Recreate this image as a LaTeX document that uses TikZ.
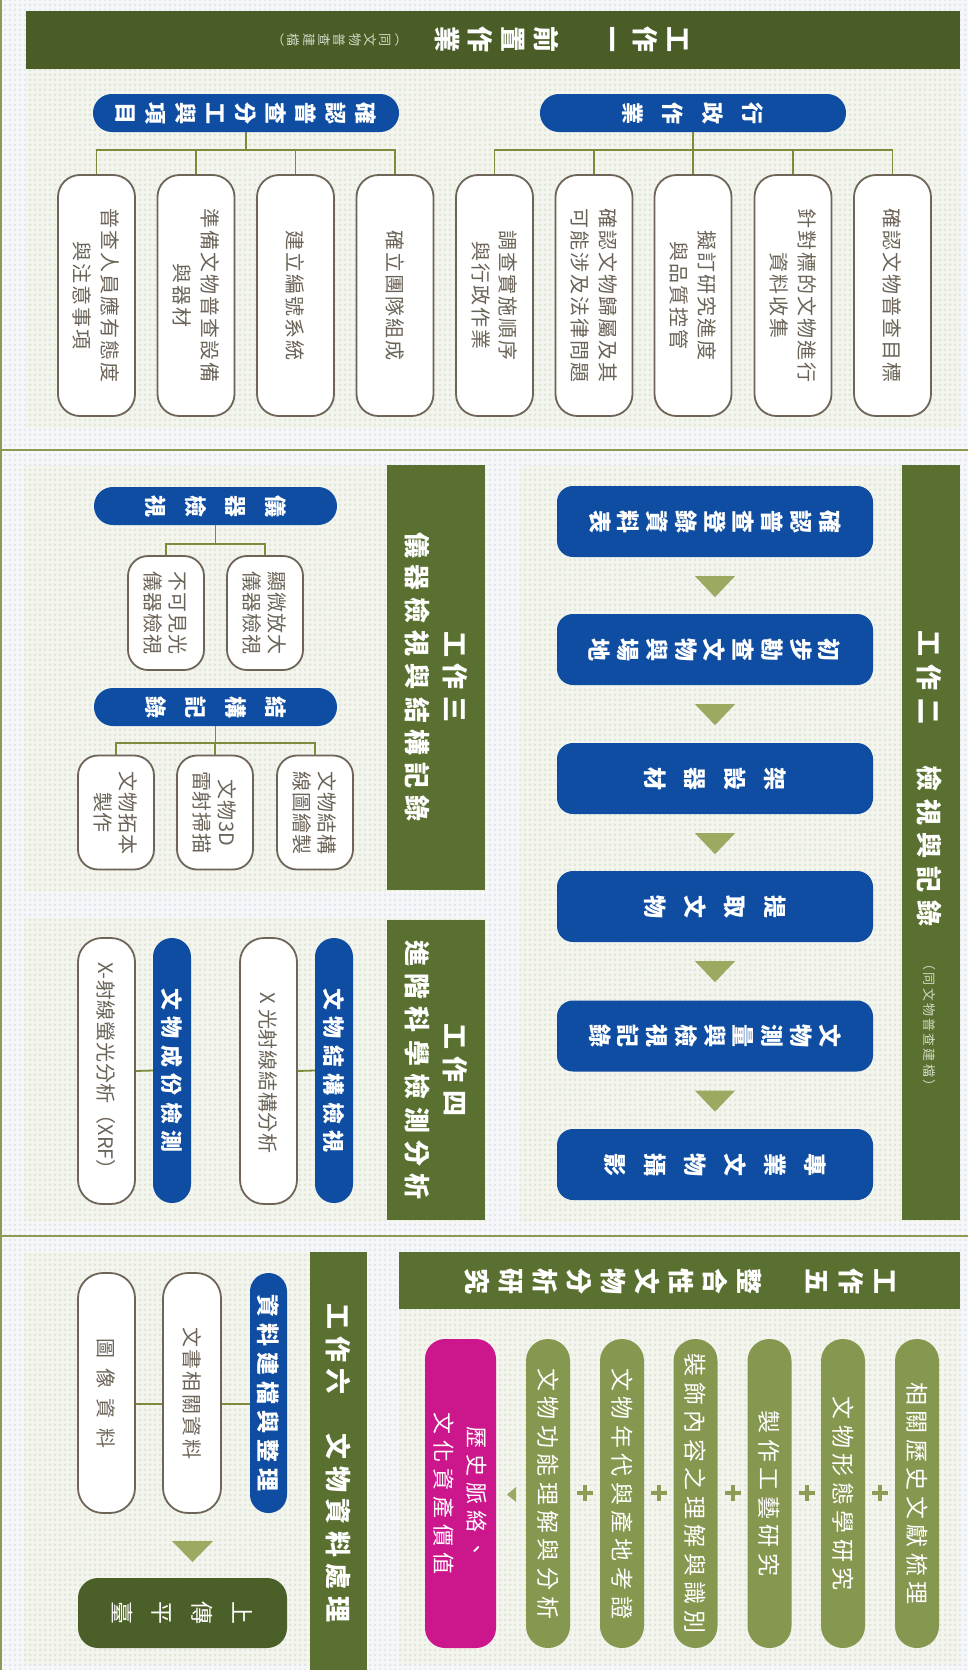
\documentclass[tikz,border=0pt]{standalone}
\usepackage{fontspec}
\setmainfont{Noto Sans CJK TC}
\usepackage{graphicx}
\usetikzlibrary{calc,patterns.meta}
\makeatletter
\newcommand\hrow[2]{\hbox{\@tfor\hr@t:=#2\do{\hbox to #1{\hss\hr@t\hss}}}}
\newcommand\vcol[2]{\vbox{\baselineskip=#1\lineskiplimit=-\maxdimen\@tfor\vc@t:=#2\do{\hbox to 1em{\hss\vc@t\hss}}}}
\newcommand\tl[3]{\vbox{\baselineskip=#1\lineskiplimit=-\maxdimen\halign{\hfil##\hfil\cr#2\cr#3\cr}}}
\makeatother
\newcommand\R[1]{\rotatebox{-90}{#1}}
\newcommand\fs[1]{\fontsize{#1}{#1}\selectfont}
\definecolor{bgout}{HTML}{F6F7F8}
\definecolor{dotout}{HTML}{E2E7F1}
\definecolor{bgin}{HTML}{F3F5EE}
\definecolor{dotin}{HTML}{E1E7D6}
\definecolor{sepc}{HTML}{8D9B52}
\definecolor{hdrdark}{HTML}{4A5D27}
\definecolor{barg}{HTML}{5A7030}
\definecolor{pblue}{HTML}{0E4DA1}
\definecolor{polive}{HTML}{86974F}
\definecolor{pmag}{HTML}{CC168C}
\definecolor{trig}{HTML}{9CAA61}
\definecolor{lineol}{HTML}{7E8B3C}
\definecolor{boxbrd}{HTML}{6E6558}
\definecolor{boxtxt}{HTML}{6B6357}
\definecolor{subtxt}{HTML}{D3D9C6}
\definecolor{upg}{HTML}{4B5F28}
\definecolor{plusc}{HTML}{8D9C55}
\tikzset{
  conn/.style={draw=lineol, line width=1.8pt},
  sep/.style={draw=sepc, line width=1.5pt},
  wbox/.style={draw=boxbrd, line width=1.8pt, fill=white, text=boxtxt, inner sep=0pt, font=\fs{20}},
  bluebox/.style={fill=pblue, text=white, inner sep=0pt, font=\fs{22}\bfseries},
  olpill/.style={fill=polive, text=white, inner sep=0pt, font=\fs{23}, rounded corners=21.9pt, minimum width=44pt, minimum height=309pt},
  bar/.style={fill=barg, text=white, inner sep=0pt},
  tri/.style={fill=trig},
  txt/.style={inner sep=0pt, text=white},
  plus/.style={draw=plusc, line width=4pt},
  panel/.style={fill=bgin, postaction={pattern={Dots[radius=1.5pt, distance=5pt]}, pattern color=dotin}},
}
\begin{document}
\begin{tikzpicture}[x=1pt,y=-1pt]
\useasboundingbox (0,0) rectangle (968,1670);
% background
\fill[bgout] (0,0) rectangle (968,1670);
\fill[pattern={Dots[radius=1.5pt, distance=5pt]}, pattern color=dotout] (0,0) rectangle (968,1670);
\fill[panel] (26,69) rectangle (960,428);
\fill[panel] (520,465) rectangle (960,1222);
\fill[panel] (24,465) rectangle (485,892);
\fill[panel] (24,918) rectangle (485,1222);
\fill[panel] (399,1252) rectangle (960,1664);
\fill[panel] (24,1252) rectangle (367,1664);
\draw[sep] (1,0) -- (1,1670);
\draw[sep] (0,450) -- (968,450);
\draw[sep] (0,1236) -- (968,1236);

% ===== Section 1 =====
\node[bar, fill=hdrdark, minimum width=934pt, minimum height=58pt] (h1) at (493,40) {};
\node[txt, font=\fs{26}\bfseries] (h1t) at (561.5,40) {\R{\vcol{33pt}{工作一　前置作業}}};
\node[txt, font=\fs{13}, text=subtxt] (h1s) at (336,40) {\R{\vcol{15.3pt}{︵同文物普查建檔︶}}};

\node[bluebox, rounded corners=18.9pt, minimum width=306pt, minimum height=38pt] (p1a) at (246,113) {\R{\vcol{30pt}{確認普查分工與項目}}};
\node[bluebox, rounded corners=18.9pt, minimum width=306pt, minimum height=38pt] (p1b) at (693,113) {\R{\vcol{40pt}{行政作業}}};

\tikzset{c1box/.style={wbox, rounded corners=22pt, minimum width=77pt, minimum height=241pt}}
\node[c1box] (c1) at (96.5,295.5) {\R{\tl{27.5pt}{\hrow{22pt}{普查人員應有態度}}{\hrow{22pt}{與注意事項}}}};
\node[c1box] (c2) at (196,295.5) {\R{\tl{27.5pt}{\hrow{22pt}{準備文物普查設備}}{\hrow{22pt}{與器材}}}};
\node[c1box] (c3) at (295.5,295.5) {\R{\hrow{22pt}{建立編號系統}}};
\node[c1box] (c4) at (395,295.5) {\R{\hrow{22pt}{確立團隊組成}}};
\node[c1box] (c5) at (494.5,295.5) {\R{\tl{27.5pt}{\hrow{22pt}{調查實施順序}}{\hrow{22pt}{與行政作業}}}};
\node[c1box] (c6) at (594,295.5) {\R{\tl{27.5pt}{\hrow{22pt}{確認文物歸屬及其}}{\hrow{22pt}{可能涉及法律問題}}}};
\node[c1box] (c7) at (693,295.5) {\R{\tl{27.5pt}{\hrow{22pt}{擬訂研究進度}}{\hrow{22pt}{與品質控管}}}};
\node[c1box] (c8) at (793,295.5) {\R{\tl{27.5pt}{\hrow{22pt}{針對標的文物進行}}{\hrow{22pt}{資料收集}}}};
\node[c1box] (c9) at (892.5,295.5) {\R{\hrow{22pt}{確認文物普查目標}}};

\foreach \c in {c1,c2,c3,c4} {\draw[conn] (p1a.south) -- ++(0,18) -| (\c.north);}
\foreach \c in {c5,c6,c7,c8,c9} {\draw[conn] (p1b.south) -- ++(0,18) -| (\c.north);}

% ===== Section 2 =====
\node[bar, minimum width=58pt, minimum height=755pt] (b2) at (931,842.5) {};
\node[txt, font=\fs{26}\bfseries] (b2t) at (930,778.5) {\R{\hrow{33.7pt}{工作二　檢視與記錄}}};
\node[txt, font=\fs{13}, text=subtxt] (b2s) at (929,1025) {\R{\hrow{15.2pt}{（同文物普查建檔）}}};

\tikzset{fbox/.style={bluebox, font=\fs{23}\bfseries, rounded corners=16pt, minimum width=316pt, minimum height=71pt}}
\node[fbox] (f1) at (715,521.5) {\R{\vcol{28.75pt}{確認普查登錄資料表}}};
\node[fbox] (f2) at (715,649.5) {\R{\vcol{28.75pt}{初步勘查文物與場地}}};
\node[fbox] (f3) at (715,778.5) {\R{\vcol{40pt}{架設器材}}};
\node[fbox] (f4) at (715,906.5) {\R{\vcol{40pt}{提取文物}}};
\node[fbox] (f5) at (715,1036) {\R{\vcol{28.75pt}{文物測量與檢視記錄}}};
\node[fbox] (f6) at (715,1164.5) {\R{\vcol{40pt}{專業文物攝影}}};
\foreach \a in {f1,f2,f3,f4,f5} {\fill[tri] ($(\a.south)+(-20,19)$) -- ($(\a.south)+(20,19)$) -- ($(\a.south)+(0,40)$) -- cycle;}

% ===== Section 3 =====
\node[bar, minimum width=98pt, minimum height=425pt] (b3) at (436,677.5) {};
\node[txt, font=\fs{26}\bfseries] (b3t) at (436.5,677) {\R{\tl{38pt}{\hrow{33pt}{工作三}}{\hrow{33pt}{儀器檢視與結構記錄}}}};

\node[bluebox, rounded corners=18.9pt, minimum width=243pt, minimum height=38pt] (p3a) at (215.5,506) {\R{\vcol{40pt}{儀器檢視}}};
\node[bluebox, rounded corners=18.9pt, minimum width=243pt, minimum height=38pt] (p3b) at (215.5,707) {\R{\vcol{40pt}{結構記錄}}};
\tikzset{c3box/.style={wbox, rounded corners=20pt, minimum width=76pt, minimum height=114pt}}
\node[c3box] (b3a) at (166,613) {\R{\tl{25pt}{\hrow{21pt}{不可見光}}{\hrow{21pt}{儀器檢視}}}};
\node[c3box] (b3b) at (265,613) {\R{\tl{25pt}{\hrow{21pt}{顯微放大}}{\hrow{21pt}{儀器檢視}}}};
\node[c3box] (b3c) at (116,812.5) {\R{\tl{25pt}{\hrow{21pt}{文物拓本}}{\hrow{21pt}{製作}}}};
\node[c3box] (b3d) at (215,812.5) {\R{\tl{25pt}{\hbox{\hrow{21pt}{文物}3D}}{\hrow{21pt}{雷射掃描}}}};
\node[c3box] (b3e) at (315,812.5) {\R{\tl{25pt}{\hrow{21pt}{文物結構}}{\hrow{21pt}{線圖繪製}}}};
\foreach \c in {b3a,b3b} {\draw[conn] (p3a.south) -- ++(0,19) -| (\c.north);}
\foreach \c in {b3c,b3d,b3e} {\draw[conn] (p3b.south) -- ++(0,17) -| (\c.north);}

% ===== Section 4 =====
\node[bar, minimum width=98pt, minimum height=300pt] (b4) at (436,1070) {};
\node[txt, font=\fs{26}\bfseries] (b4t) at (436,1070) {\R{\tl{38pt}{\hrow{33.4pt}{工作四}}{\hrow{33.4pt}{進階科學檢測分析}}}};
\tikzset{vpill/.style={bluebox, rounded corners=18.9pt, minimum width=38pt, minimum height=265pt},
         c4box/.style={wbox, rounded corners=24pt, minimum width=57pt, minimum height=266pt}}
\node[vpill] (p4a) at (334,1070.5) {\R{\hrow{28.5pt}{文物結構檢視}}};
\node[vpill] (p4b) at (172,1070.5) {\R{\hrow{28.5pt}{文物成份檢測}}};
\node[c4box] (w4a) at (268.5,1071) {\R{\hrow{20.7pt}{X光射線結構分析}}};
\node[c4box] (w4b) at (106.5,1071) {\R{\hbox{X-\hrow{20.7pt}{射線螢光分析（}XRF）}}};
\draw[conn] (w4a.east) -- (p4a.west);
\draw[conn] (w4b.east) -- (p4b.west);

% ===== Section 5 =====
\node[bar, minimum width=561pt, minimum height=57pt] (b5) at (679.5,1280.5) {};
\node[txt, font=\fs{26}\bfseries] (b5t) at (679.5,1281) {\R{\vcol{34pt}{工作五　整合性文物分析研究}}};
\node[olpill] (o6) at (917,1493.5) {\R{\hrow{28.5pt}{相關歷史文獻梳理}}};
\node[olpill] (o5) at (843,1493.5) {\R{\hrow{28.5pt}{文物形態學研究}}};
\node[olpill] (o4) at (769.5,1493.5) {\R{\hrow{28.5pt}{製作工藝研究}}};
\node[olpill] (o3) at (695.5,1493.5) {\R{\hrow{28.5pt}{裝飾內容之理解與識別}}};
\node[olpill] (o2) at (622,1493.5) {\R{\hrow{28.5pt}{文物年代與產地考證}}};
\node[olpill] (o1) at (548,1493.5) {\R{\hrow{28.5pt}{文物功能理解與分析}}};
\node[fill=pmag, text=white, inner sep=0pt, font=\fs{22}, rounded corners=20pt, minimum width=71pt, minimum height=309pt] (mg) at (460.5,1493.5) {\R{\tl{33pt}{\hrow{28pt}{歷史脈絡、}}{\hrow{28pt}{文化資產價值}}}};
\foreach \x in {585,658.5,732.5,806.5,880} {\draw[plus] (\x-8,1493) -- (\x+8,1493) (\x,1485) -- (\x,1501);}
\fill[tri] (507,1494.5) -- (516,1487) -- (516,1502) -- cycle;

% ===== Section 6 =====
\node[bar, minimum width=57pt, minimum height=418pt] (b6) at (338.5,1461) {};
\node[txt, font=\fs{26}\bfseries] (b6t) at (338,1463) {\R{\hrow{32.5pt}{工作六　文物資料處理}}};
\node[bluebox, font=\fs{23}\bfseries, rounded corners=18.4pt, minimum width=37pt, minimum height=240pt] (p6) at (268.5,1393) {\R{\hrow{29pt}{資料建檔與整理}}};
\node[wbox, rounded corners=25pt, minimum width=58pt, minimum height=240pt] (w6a) at (192,1393) {\R{\hrow{22.4pt}{文書相關資料}}};
\node[wbox, rounded corners=25pt, minimum width=57pt, minimum height=240pt] (w6b) at (106.5,1393) {\R{\hrow{30pt}{圖像資料}}};
\draw[conn] ($(w6a.east)+(0,11)$) -- ($(p6.west)+(0,11)$);
\draw[conn] ($(w6b.east)+(0,11)$) -- ($(w6a.west)+(0,11)$);
\fill[tri] (172,1541) -- (213,1541) -- (192.5,1562) -- cycle;
\node[fill=upg, text=white, inner sep=0pt, font=\fs{23}, rounded corners=20pt, minimum width=209pt, minimum height=70pt] (up) at (182.5,1613) {\R{\vcol{40pt}{上傳平臺}}};
\end{tikzpicture}
\end{document}
